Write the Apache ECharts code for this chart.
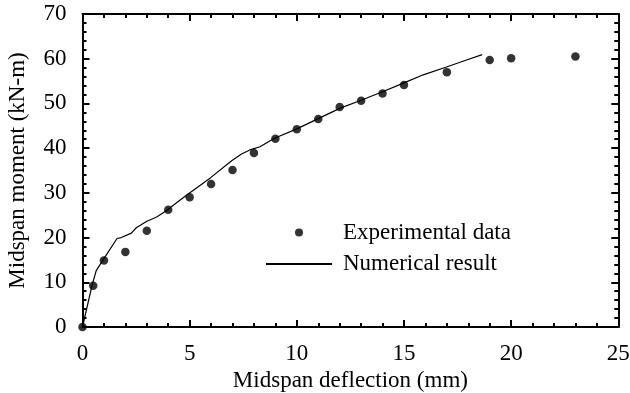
<!DOCTYPE html>
<html>
<head>
<meta charset="utf-8">
<script src="https://cdn.jsdelivr.net/npm/echarts@6/dist/echarts.min.js"></script>
<style>html,body{margin:0;padding:0;background:#fff}#c{width:630px;height:393px}</style>
</head>
<body>
<div id="c"></div>
<script>
const expX = [0, 0.5, 1, 2, 3, 4, 5, 6, 7, 8, 9, 10, 11, 12, 13, 14, 15, 17, 19, 20, 23];
const expY = [0, 9.2, 14.9, 16.8, 21.5, 26.2, 29.0, 32.0, 35.1, 38.9, 42.1, 44.2, 46.5, 49.2, 50.6, 52.2, 54.1, 57.0, 59.7, 60.1, 60.5];
const numX = [0, 0.44, 0.64, 0.96, 1.61, 1.81, 2.28, 2.51, 2.98, 3.46, 3.91, 4.45, 4.98, 5.98, 6.96, 7.42, 7.81, 8.28, 8.96, 10, 11, 12, 13, 14, 15, 15.9, 16.95, 17.92, 18.65];
const numY = [0, 9.2, 12.6, 15.0, 19.8, 20.0, 21.0, 22.2, 23.6, 24.6, 26.0, 28.0, 29.9, 33.4, 37.2, 38.7, 39.6, 40.3, 42.2, 44.3, 46.6, 48.9, 50.7, 52.6, 54.6, 56.4, 58.1, 59.7, 60.9];
const xTitle = 'Midspan deflection (mm)';
const yTitle = 'Midspan moment (kN-m)';
const seriesNames = ['Experimental data', 'Numerical result'];

const font = 'Liberation Serif';
const fs = 23;
const axisLine = {show: true, onZero: false, lineStyle: {color: '#000', width: 2}};
const tick = {show: true, inside: true, length: 7, lineStyle: {color: '#000', width: 2}};
const minor = {show: true, splitNumber: 5, length: 4, lineStyle: {color: '#000', width: 2}};

const chart = echarts.init(document.getElementById('c'), null, {renderer: 'canvas'});
chart.setOption({
  backgroundColor: '#fff',
  animation: false,
  grid: {left: 82.5, right: 11.7, top: 14, bottom: 66, containLabel: false, outerBoundsMode: 'none'},
  legend: {
    orient: 'vertical', left: 260, top: 216, itemWidth: 66, itemHeight: 8, itemGap: 8.5,
    textStyle: {fontFamily: font, fontSize: fs, color: '#000', padding: [0, 0, 0, 6]},
    data: [
      {name: seriesNames[0], icon: 'circle', itemStyle: {color: '#000'}},
      {name: seriesNames[1], itemStyle: {opacity: 0}}
    ]
  },
  xAxis: [{
    type: 'value', min: 0, max: 25, interval: 5,
    name: xTitle, nameLocation: 'middle', nameGap: 38,
    nameTextStyle: {fontFamily: font, fontSize: fs, color: '#000'},
    axisLine: axisLine, axisTick: tick, minorTick: minor,
    axisLabel: {fontFamily: font, fontSize: fs, color: '#000', margin: 15},
    splitLine: {show: false}
  }, {
    type: 'value', position: 'top', min: 0, max: 25, interval: 5, show: true,
    axisLine: axisLine, axisTick: tick, minorTick: minor,
    axisLabel: {show: false}, splitLine: {show: false}
  }],
  yAxis: [{
    type: 'value', min: 0, max: 70, interval: 10,
    name: yTitle, nameLocation: 'middle', nameGap: 53,
    nameTextStyle: {fontFamily: font, fontSize: fs, color: '#000'},
    axisLine: axisLine, axisTick: tick, minorTick: minor,
    axisLabel: {fontFamily: font, fontSize: fs, color: '#000', margin: 16},
    splitLine: {show: false}
  }, {
    type: 'value', position: 'right', min: 0, max: 70, interval: 10, show: true,
    axisLine: axisLine, axisTick: tick, minorTick: minor,
    axisLabel: {show: false}, splitLine: {show: false}
  }],
  series: [{
    name: seriesNames[0], type: 'scatter', symbol: 'circle', symbolSize: 8.5,
    itemStyle: {color: '#000'},
    data: expX.map((x, i) => [x, expY[i]]), z: 5
  }, {
    name: seriesNames[1], type: 'line', symbol: 'none', smooth: false,
    lineStyle: {color: '#000', width: 1.2},
    itemStyle: {color: '#000'},
    data: numX.map((x, i) => [x, numY[i]]), z: 4
  }]
});
</script>
</body>
</html>
